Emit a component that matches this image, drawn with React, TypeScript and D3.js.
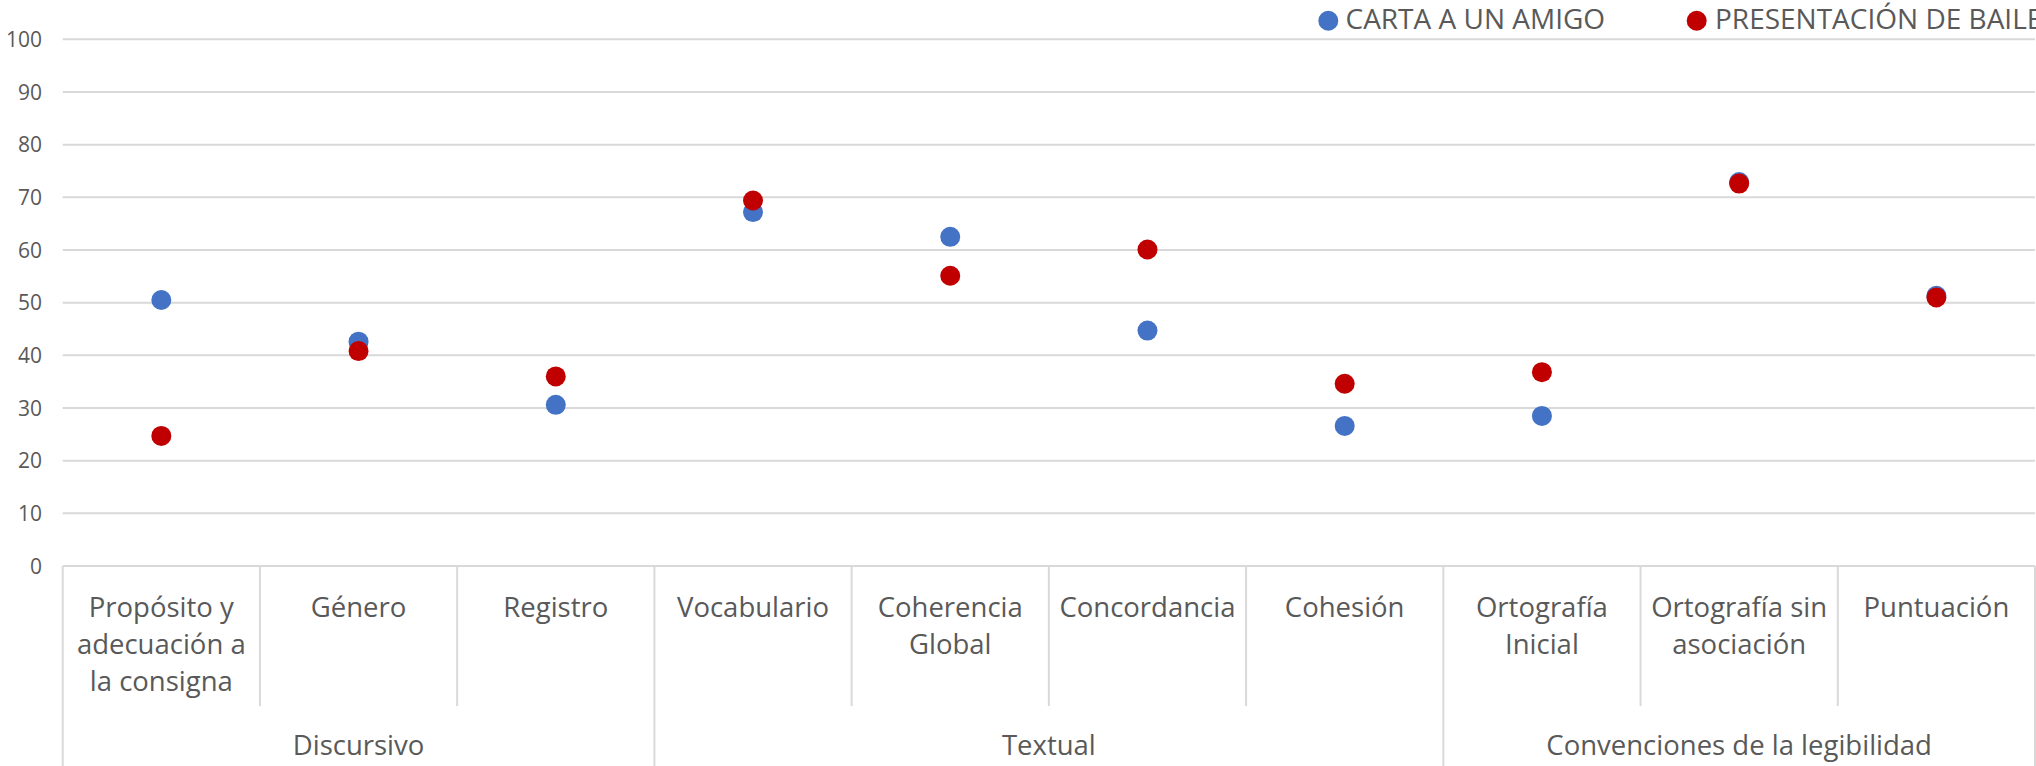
import React from "react";
import * as d3 from "d3";

const categories: string[][] = [
  ["Propósito y", "adecuación a", "la consigna"],
  ["Género"],
  ["Registro"],
  ["Vocabulario"],
  ["Coherencia", "Global"],
  ["Concordancia"],
  ["Cohesión"],
  ["Ortografía", "Inicial"],
  ["Ortografía sin", "asociación"],
  ["Puntuación"],
];

const groups = [
  { name: "Discursivo", start: 0, end: 3 },
  { name: "Textual", start: 3, end: 7 },
  { name: "Convenciones de la legibilidad", start: 7, end: 10 },
];

const cartaAUnAmigo = [50.5, 42.6, 30.6, 67.2, 62.5, 44.7, 26.6, 28.5, 72.9, 51.3];
const presentacionDeBaile = [24.7, 40.8, 36.0, 69.4, 55.1, 60.1, 34.6, 36.8, 72.6, 51.0];

const yTicks = [0, 10, 20, 30, 40, 50, 60, 70, 80, 90, 100];

const series = [
  { name: "CARTA A UN AMIGO", values: cartaAUnAmigo, color: "#4472C4" },
  { name: "PRESENTACIÓN DE BAILE", values: presentacionDeBaile, color: "#C00000" },
];

const W = 2036;
const H = 766;
const FONT = "'Open Sans', 'Noto Sans', sans-serif";
const TEXT = "#595959";
const GRID = "#d9d9d9";

export default function App() {
  const left = 62.7;
  const right = 2035;
  const y = d3.scaleLinear().domain([0, 100]).range([566, 39.3]);
  const x = d3
    .scaleBand<number>()
    .domain(categories.map((_, i) => i))
    .range([left, right])
    .padding(0);
  const bw = x.bandwidth();
  const y0 = y(0);
  const innerBottom = 706;
  const line1 = 617;
  const lineGap = 37;
  const groupBaseline = 755;

  const groupEdges = new Set<number>();
  groups.forEach((g) => {
    groupEdges.add(g.start);
    groupEdges.add(g.end);
  });
  const boundaries = d3.range(categories.length + 1);

  return (
    <svg
      width={W}
      height={H}
      style={{ position: "absolute", left: 0, top: 0, background: "#fff" }}
      fontFamily={FONT}
    >
      <rect x={0} y={0} width={W} height={H} fill="#fff" />
      {yTicks.map((t) => (
        <line
          key={"g" + t}
          x1={left}
          x2={right}
          y1={y(t)}
          y2={y(t)}
          stroke={GRID}
          strokeWidth={2}
        />
      ))}
      {yTicks.map((t) => (
        <text
          key={"t" + t}
          x={42}
          y={y(t)}
          dy="0.36em"
          textAnchor="end"
          fontSize={21}
          fill={TEXT}
        >
          {t}
        </text>
      ))}
      {boundaries.map((b) => {
        const bx = b < categories.length ? (x(b) as number) : right;
        return (
          <line
            key={"b" + b}
            x1={bx}
            x2={bx}
            y1={y0}
            y2={groupEdges.has(b) ? H : innerBottom}
            stroke={GRID}
            strokeWidth={2}
          />
        );
      })}
      {categories.map((lines, i) => (
        <text
          key={"c" + i}
          x={(x(i) as number) + bw / 2}
          y={line1}
          textAnchor="middle"
          fontSize={27.5}
          fill={TEXT}
        >
          {lines.map((l, k) => (
            <tspan key={k} x={(x(i) as number) + bw / 2} y={line1 + k * lineGap}>
              {l}
            </tspan>
          ))}
        </text>
      ))}
      {groups.map((g) => {
        const gx0 = x(g.start) as number;
        const gx1 = g.end < categories.length ? (x(g.end) as number) : right;
        return (
          <text
            key={g.name}
            x={(gx0 + gx1) / 2}
            y={groupBaseline}
            textAnchor="middle"
            fontSize={27.5}
            fill={TEXT}
          >
            {g.name}
          </text>
        );
      })}
      {series.map((s) => (
        <g key={s.name}>
          {s.values.map((v, i) => (
            <circle
              key={i}
              cx={(x(i) as number) + bw / 2}
              cy={y(v)}
              r={10}
              fill={s.color}
            />
          ))}
        </g>
      ))}
      <g>
        <circle cx={1328.3} cy={20.7} r={10} fill={series[0].color} />
        <text x={1345.5} y={28.5} fontSize={28} fill={TEXT}>
          {series[0].name}
        </text>
        <circle cx={1696.7} cy={20.7} r={10} fill={series[1].color} />
        <text x={1715} y={28.5} fontSize={28} fill={TEXT}>
          {series[1].name}
        </text>
      </g>
    </svg>
  );
}
